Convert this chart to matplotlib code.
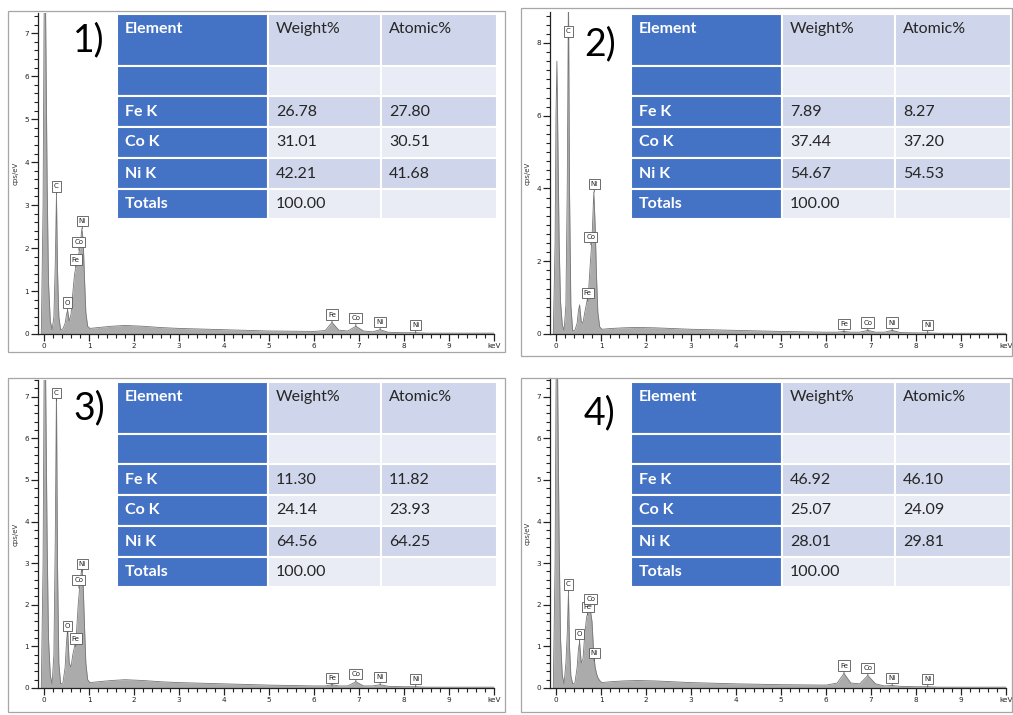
import matplotlib.pyplot as plt
from matplotlib.patches import Rectangle
from matplotlib.ticker import MultipleLocator, FixedLocator

# ---- data ----
energy_kev = [-0.06, -0.02, 0.0, 0.02, 0.04, 0.07, 0.1, 0.14, 0.18, 0.22, 0.25, 0.277, 0.30, 0.33,
              0.37, 0.42, 0.47, 0.5, 0.525, 0.56, 0.6, 0.64, 0.68, 0.72, 0.76, 0.8, 0.84, 0.87,
              0.9, 0.93, 0.97, 1.02, 1.2, 1.5, 1.8, 2.2, 2.6, 3.0, 4.0, 5.0, 6.0, 6.25, 6.4,
              6.55, 6.75, 6.93, 7.1, 7.3, 7.47, 7.65, 8.0, 8.26, 8.5, 10.0]

cps_1 = [0.0, 3.0, 7.0, 9.5, 7.0, 3.5, 1.2, 0.3, 0.1, 0.4, 1.6, 3.25, 1.5, 0.4,
         0.1, 0.12, 0.25, 0.45, 0.55, 0.3, 0.45, 0.95, 1.4, 1.6, 1.8, 2.0, 2.45, 2.2,
         1.3, 0.5, 0.18, 0.13, 0.15, 0.18, 0.2, 0.18, 0.15, 0.13, 0.1, 0.07, 0.06, 0.08, 0.27,
         0.09, 0.07, 0.18, 0.07, 0.05, 0.1, 0.04, 0.03, 0.03, 0.02, 0.02]
cps_2 = [0.0, 2.5, 6.0, 7.5, 5.5, 2.5, 0.9, 0.25, 0.1, 0.8, 4.0, 9.5, 4.0, 0.8,
         0.1, 0.1, 0.3, 0.65, 0.8, 0.35, 0.3, 0.6, 0.85, 1.1, 1.9, 2.6, 3.9, 3.0,
         1.6, 0.6, 0.2, 0.13, 0.15, 0.17, 0.18, 0.17, 0.15, 0.13, 0.1, 0.07, 0.05, 0.05, 0.07,
         0.05, 0.05, 0.1, 0.05, 0.05, 0.1, 0.04, 0.03, 0.03, 0.02, 0.02]
cps_3 = [0.0, 3.0, 7.0, 9.5, 7.0, 3.5, 1.2, 0.3, 0.1, 0.8, 3.5, 7.2, 3.0, 0.6,
         0.1, 0.12, 0.5, 1.1, 1.4, 0.6, 0.5, 0.8, 1.0, 1.3, 2.0, 2.5, 2.9, 2.5,
         1.5, 0.6, 0.2, 0.13, 0.15, 0.18, 0.2, 0.18, 0.15, 0.13, 0.1, 0.07, 0.05, 0.05, 0.08,
         0.05, 0.05, 0.15, 0.05, 0.05, 0.08, 0.04, 0.03, 0.03, 0.02, 0.02]
cps_4 = [0.0, 3.0, 7.0, 9.5, 7.0, 3.5, 1.2, 0.3, 0.1, 0.6, 1.3, 2.3, 1.0, 0.3,
         0.1, 0.12, 0.5, 0.95, 1.1, 0.6, 0.7, 1.3, 1.7, 1.85, 1.9, 1.6, 0.8, 0.5,
         0.35, 0.25, 0.18, 0.13, 0.15, 0.17, 0.18, 0.17, 0.15, 0.13, 0.1, 0.08, 0.07, 0.12, 0.35,
         0.12, 0.1, 0.3, 0.1, 0.05, 0.06, 0.04, 0.03, 0.03, 0.02, 0.02]

peak_names = ['C', 'O', 'Fe', 'Co', 'Ni', 'Fe', 'Co', 'Ni', 'Ni']
peak_kev = [0.277, 0.525, 0.705, 0.776, 0.851, 6.40, 6.93, 7.47, 8.26]
peak_y_1 = [3.25, 0.55, 1.55, 1.95, 2.45, 0.27, 0.18, 0.10, 0.02]
peak_y_2 = [8.1, None, 0.9, 2.45, 3.9, 0.05, 0.10, 0.10, 0.02]
peak_y_3 = [6.9, 1.3, 1.0, 2.4, 2.8, 0.05, 0.15, 0.08, 0.02]
peak_y_4 = [2.3, 1.1, 1.75, 1.95, 0.65, 0.35, 0.30, 0.06, 0.02]

elements = ['Fe K', 'Co K', 'Ni K']
weight_1 = ['26.78', '31.01', '42.21']
atomic_1 = ['27.80', '30.51', '41.68']
weight_2 = ['7.89', '37.44', '54.67']
atomic_2 = ['8.27', '37.20', '54.53']
weight_3 = ['11.30', '24.14', '64.56']
atomic_3 = ['11.82', '23.93', '64.25']
weight_4 = ['46.92', '25.07', '28.01']
atomic_4 = ['46.10', '24.09', '29.81']
total_weight = '100.00'

panel_labels = ['1)', '2)', '3)', '4)']

# ---- layout ----
W, H = 1013, 715
fig = plt.figure(figsize=(W / 100, H / 100), dpi=100)


def rect(x0, y0, x1, y1):
    return [x0 / W, 1 - y1 / H, (x1 - x0) / W, (y1 - y0) / H]


panels = [
    dict(cps=cps_1, py=peak_y_1, w=weight_1, a=atomic_1, ax=(38, 13, 494, 334), ytop=7.47,
         ymaj=1, ymin=0.2, tab=(117, 14, 497, 219), num=(89, 40), box=(8, 11, 505, 352)),
    dict(cps=cps_2, py=peak_y_2, w=weight_2, a=atomic_2, ax=(550, 12, 1006, 334), ytop=8.85,
         ymaj=2, ymin=0.25, tab=(631, 14, 1011, 219), num=(600, 44), box=(521, 8, 1012, 356)),
    dict(cps=cps_3, py=peak_y_3, w=weight_3, a=atomic_3, ax=(38, 380, 494, 688), ytop=7.4,
         ymaj=1, ymin=0.2, tab=(117, 382, 497, 587), num=(89, 408), box=(8, 378, 505, 712)),
    dict(cps=cps_4, py=peak_y_4, w=weight_4, a=atomic_4, ax=(550, 378, 1006, 688), ytop=7.45,
         ymaj=1, ymin=0.2, tab=(631, 382, 1011, 587), num=(600, 413), box=(521, 378, 1012, 712)),
]

blue = '#4472C4'
light = '#CFD5EA'
lighter = '#E9EBF5'
tfont = ['Lato', 'DejaVu Sans']

for i, p in enumerate(panels):
    bx0, by0, bx1, by1 = p['box']
    fig.add_artist(Rectangle((bx0 / W, 1 - by1 / H), (bx1 - bx0) / W, (by1 - by0) / H,
                             transform=fig.transFigure, fill=False, ec='#A6A6A6', lw=0.9))

    ax = fig.add_axes(rect(*p['ax']))
    ax.fill_between(energy_kev, p['cps'], 0, color='#ABABAB', lw=0)
    ax.plot(energy_kev, p['cps'], color='#777777', lw=0.6)
    ax.set_xlim(-0.133, 10.0)
    ax.set_ylim(0, p['ytop'])
    ax.patch.set_alpha(0)
    for s in ['top', 'right']:
        ax.spines[s].set_visible(False)
    for s in ['left', 'bottom']:
        ax.spines[s].set_color('#222222')
        ax.spines[s].set_linewidth(0.9)
    ax.xaxis.set_major_locator(FixedLocator(range(0, 11)))
    ax.set_xticklabels([str(k) for k in range(10)] + ['keV'])
    ax.xaxis.set_minor_locator(MultipleLocator(0.2))
    ax.yaxis.set_major_locator(MultipleLocator(p['ymaj']))
    ax.yaxis.set_minor_locator(MultipleLocator(p['ymin']))
    ax.tick_params(axis='both', which='major', labelsize=5.2, colors='#222222', width=0.9)
    ax.tick_params(axis='x', which='major', direction='out', length=5, pad=1.5)
    ax.tick_params(axis='x', which='minor', direction='out', length=3, width=0.8, colors='#222222')
    ax.tick_params(axis='y', which='major', direction='out', length=5, pad=1.5)
    ax.tick_params(axis='y', which='minor', direction='out', length=3, width=0.8, colors='#222222')
    ax.set_ylabel('cps/eV', fontsize=5, color='#333333', labelpad=4)

    for name, e, y in zip(peak_names, peak_kev, p['py']):
        if y is None:
            continue
        ax.annotate(name, xy=(e, y), xytext=(0, 3.5), textcoords='offset points',
                    ha='center', va='bottom', fontsize=5, color='#222222',
                    bbox=dict(boxstyle='square,pad=0.3', fc='white', ec='#555555', lw=0.6),
                    arrowprops=dict(arrowstyle='-', color='#555555', lw=0.6,
                                    shrinkA=0, shrinkB=0))

    fig.text(p['num'][0] / W, 1 - p['num'][1] / H, panel_labels[i], fontsize=27,
             family=tfont, ha='center', va='center', color='black')

    # table overlay
    tx0, ty0, tx1, ty1 = p['tab']
    tax = fig.add_axes(rect(tx0, ty0, tx1, ty1))
    tax.set_xlim(0, tx1 - tx0)
    tax.set_ylim(ty1 - ty0, 0)
    tax.axis('off')
    cols = [0, 151, 264, 380]
    rows = [0, 52, 82, 113, 144, 175, 205]
    row_fill = [light, lighter, light, lighter, light, lighter]
    rows_text = [['Element', 'Weight%', 'Atomic%'], ['', '', '']]
    rows_text += [[el, wv, av] for el, wv, av in zip(elements, p['w'], p['a'])]
    rows_text += [['Totals', total_weight, '']]
    for r in range(6):
        for c in range(3):
            fc = blue if c == 0 else row_fill[r]
            tax.add_patch(Rectangle((cols[c], rows[r]), cols[c + 1] - cols[c], rows[r + 1] - rows[r],
                                    fc=fc, ec='white', lw=1.5))
            txt = rows_text[r][c]
            if not txt:
                continue
            yy = rows[r] + 15 if r == 0 else (rows[r] + rows[r + 1]) / 2
            tax.text(cols[c] + 8, yy, txt, ha='left', va='center', fontsize=11.5,
                     family=tfont, color='white' if c == 0 else '#262626',
                     fontweight='bold' if c == 0 else 'normal')

fig.savefig('out.png', dpi=100)
